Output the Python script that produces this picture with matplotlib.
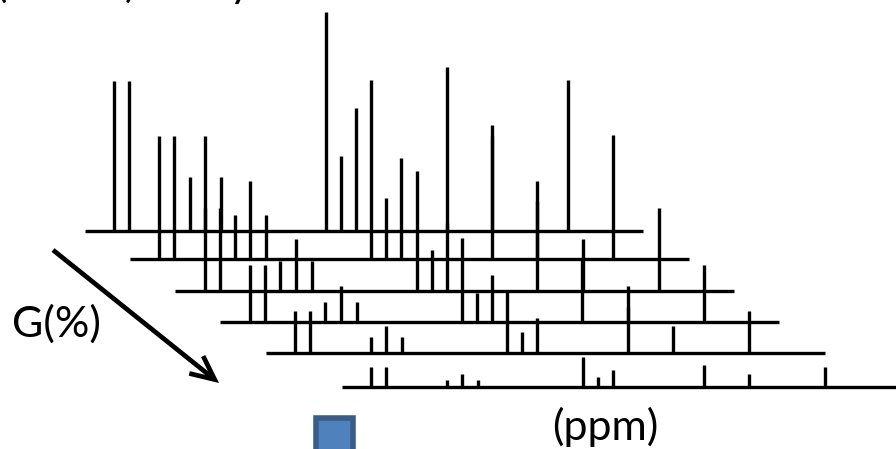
import matplotlib
matplotlib.use("Agg")
import matplotlib.pyplot as plt
from matplotlib.patches import FancyArrowPatch, Rectangle

plt.rcParams['font.family'] = ['Lato', 'DejaVu Sans']

# ---- data ----
# peak positions along each spectrum (units of the drawing, from spectrum start)
peak_shift = [29.5, 44.5, 105, 120.5, 136.5, 241.5, 256.5, 271.5, 362, 407.5, 483.5]

# peak intensities for each gradient step (top spectrum = lowest gradient)
intensity_g1 = [150, 150, 54, 95, 54, 219, 75, 123, 164, 95, 151]
intensity_g2 = [123, 123, 44, 78, 44, 179, 61, 101, 134, 78, 124]
intensity_g3 = [83, 83, 30, 52, 30, 120, 41, 68, 90, 52, 83]
intensity_g4 = [57, 57, 20, 36, 20, 84, 29, 47, 62, 36, 57]
intensity_g5 = [42, 42, 16, 27, 16, 61, 21, 35, 46, 27, 42]
intensity_g6 = [20, 20, 7, 13, 7, 30, 10, 17, 22, 13, 20]
intensities = [intensity_g1, intensity_g2, intensity_g3,
               intensity_g4, intensity_g5, intensity_g6]

# ---- layout of the pseudo-3D stack ----
row_x0 = [84.5, 129.5, 175, 220, 265.5, 341.5]
row_y = [230.7, 259, 291, 322, 352.8, 387]
row_len = [558.5, 559.5, 559, 559, 559.5, 600]

W, H = 896, 449
fig = plt.figure(figsize=(W / 100, H / 100), dpi=100)
ax = fig.add_axes([0, 0, 1, 1])
ax.set_xlim(0, W)
ax.set_ylim(H, 0)
ax.axis('off')

lw = 2.4
for x0, y0, L, inten in zip(row_x0, row_y, row_len, intensities):
    ax.hlines(y0, x0, x0 + L, color='black', linewidth=lw)
    xs = [x0 + s for s in peak_shift]
    ax.vlines(xs, [y0 - h for h in inten], y0 + 1.0, color='black', linewidth=lw)

# gradient arrow
arrow = FancyArrowPatch((53, 250), (219, 383),
                        arrowstyle='->,head_length=17,head_width=8',
                        color='black', linewidth=3.4, mutation_scale=1,
                        shrinkA=0, shrinkB=0, capstyle='butt', joinstyle='miter')
ax.add_patch(arrow)

ax.text(12, 337, 'G(%)', fontsize=31, ha='left', va='baseline', color='black')
ax.text(605, 440, '(ppm)', fontsize=31, ha='center', va='baseline', color='black')
ax.text(-4, -2.5, '(DOSY) study', fontsize=31, ha='left', va='baseline',
        color='black')

sq = Rectangle((316, 418), 37, 40, facecolor='#4F81BD', edgecolor='#385D8A',
               linewidth=4)
ax.add_patch(sq)

fig.savefig('out.png', dpi=100)
